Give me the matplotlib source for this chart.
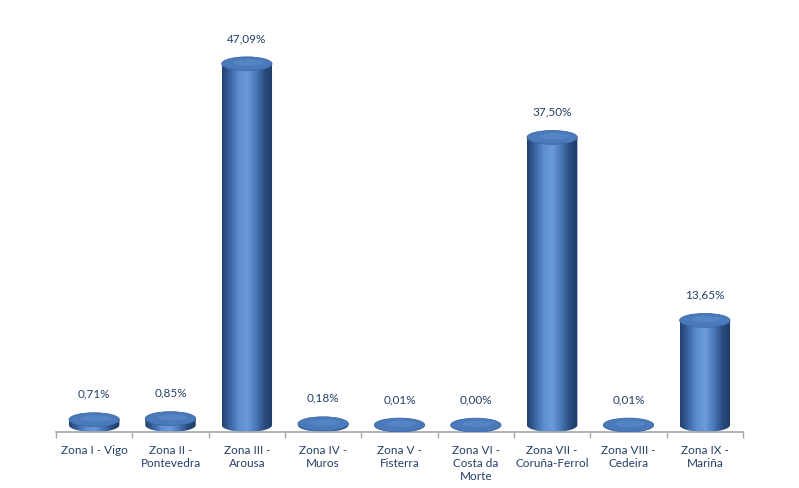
import numpy as np
from matplotlib import pyplot as plt
from matplotlib.path import Path
from matplotlib.patches import Ellipse, PathPatch
from matplotlib.colors import LinearSegmentedColormap

ZONES = ['Zona I - Vigo', 'Zona II -\nPontevedra', 'Zona III -\nArousa', 'Zona IV -\nMuros',
         'Zona V -\nFisterra', 'Zona VI -\nCosta da\nMorte', 'Zona VII -\nCoruña-Ferrol',
         'Zona VIII -\nCedeira', 'Zona IX -\nMariña']
SHARES = [0.71, 0.85, 47.09, 0.18, 0.01, 0.00, 37.50, 0.01, 13.65]
LABELS = ['0,71%', '0,85%', '47,09%', '0,18%', '0,01%', '0,00%', '37,50%', '0,01%', '13,65%']

TEXT_COLOR = '#243f66'
BAR_WIDTH = 0.66
ELLIPSE_HALF = 0.9

body_cmap = LinearSegmentedColormap.from_list(
    'cyl', ['#21406c', '#3a66a3', '#5d8fd0', '#6b9bd9', '#4a79b9', '#2a4d80', '#1d3a66'])


def draw_cylinder(ax, x, value):
    x0, x1 = x - BAR_WIDTH / 2, x + BAR_WIDTH / 2
    yb = ELLIPSE_HALF
    yt = ELLIPSE_HALF + value
    t = np.linspace(np.pi, 2 * np.pi, 60)
    arc_x = x + BAR_WIDTH / 2 * np.cos(t)
    arc_y = yb + ELLIPSE_HALF * np.sin(t)
    verts = [(x0, yt)] + list(zip(arc_x, arc_y)) + [(x1, yt), (x0, yt)]
    codes = [Path.MOVETO] + [Path.LINETO] * (len(verts) - 2) + [Path.CLOSEPOLY]
    body = PathPatch(Path(verts, codes), facecolor='none', edgecolor='none')
    ax.add_patch(body)
    grad = np.linspace(0, 1, 256).reshape(1, -1)
    im = ax.imshow(grad, cmap=body_cmap, aspect='auto', extent=(x0, x1, 0, yt), zorder=2)
    im.set_clip_path(body)
    top = Ellipse((x, yt), BAR_WIDTH, 2 * ELLIPSE_HALF, facecolor='#4a7abb',
                  edgecolor='#3d69a6', linewidth=0.6, zorder=3)
    ax.add_patch(top)
    hl = Ellipse((x + 0.02, yt + 0.15), BAR_WIDTH * 0.6, ELLIPSE_HALF * 0.9, facecolor='#5a8bcb',
                 edgecolor='none', alpha=0.6, zorder=3)
    ax.add_patch(hl)


def main():
    fig = plt.figure(figsize=(7.99, 4.88), dpi=100)
    ax = fig.add_axes([56 / 799, 56 / 488, 687 / 799, 422 / 488])
    plt.rcParams['font.family'] = ['Lato', 'DejaVu Sans']

    xs = np.arange(len(SHARES))
    for x, v, lab in zip(xs, SHARES, LABELS):
        draw_cylinder(ax, x, v)
        ax.text(x, v + 2 * ELLIPSE_HALF + 2.4, lab, ha='center', va='center',
                fontsize=8.5, color=TEXT_COLOR, family=['Lato', 'DejaVu Sans'])

    ax.set_xlim(-0.5, len(SHARES) - 0.5)
    ax.set_ylim(0, 55)
    ax.set_xticks(xs)
    ax.set_xticklabels(ZONES, fontsize=8.5, color=TEXT_COLOR, family=['Lato', 'DejaVu Sans'],
                       linespacing=1.25, va='top')
    ax.tick_params(axis='x', which='major', length=0, pad=9)
    ax.set_xticks(np.arange(-0.5, len(SHARES), 1.0), minor=True)
    ax.tick_params(axis='x', which='minor', length=4, color='#a6a6a6', width=1)
    ax.set_yticks([])
    for side in ['top', 'right', 'left']:
        ax.spines[side].set_visible(False)
    ax.spines['bottom'].set_color('#a6a6a6')
    ax.spines['bottom'].set_linewidth(1.2)

    fig.savefig('out.png', dpi=100)


if __name__ == '__main__':
    main()
